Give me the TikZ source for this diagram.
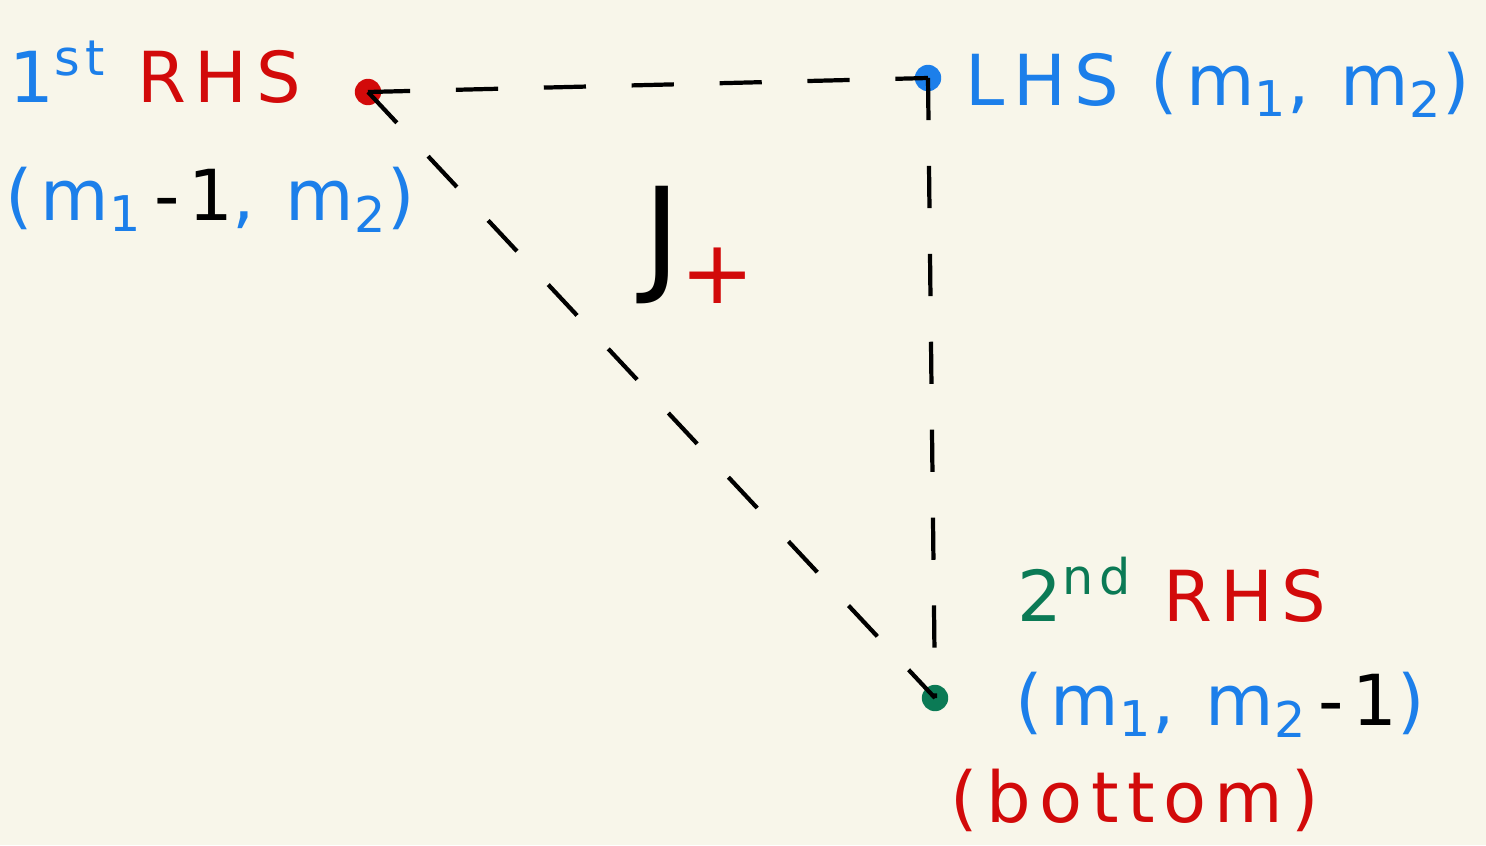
\documentclass[tikz,border=0pt]{standalone}
\usepackage{fontspec}
\setmainfont{DejaVu Sans}[LetterSpace=12]
\definecolor{bg}{HTML}{F8F6EA}
\definecolor{hblue}{HTML}{1C7FEA}
\definecolor{hred}{HTML}{D20A0A}
\definecolor{hgreen}{HTML}{0B7A55}
\begin{document}
\begin{tikzpicture}[x=0.01cm,y=-0.01cm,
  lbl/.style={inner sep=0pt,anchor=center,font=\fontsize{20}{24}\selectfont},
  dashline/.style={draw=black,line width=1.2pt,dash pattern=on 12pt off 13pt},
  dot/.style={circle,inner sep=0pt,minimum size=7.5pt}]
\fill[bg] (0,0) rectangle (1486,845);
\useasboundingbox (0,0) rectangle (1486,845);
\node[dot,fill=hred] (r1) at (368,92) {};
\node[dot,fill=hblue] (l) at (928,78) {};
\node[dot,fill=hgreen] (r2) at (935,698) {};
\draw[dashline] (r1.center) -- (l.center);
\draw[dashline] (l.center) -- (r2.center);
\draw[dashline] (r1.center) -- (r2.center);
\node[lbl] (t1) at (155,72) {\textcolor{hblue}{1\textsuperscript{st}}\ \textcolor{hred}{RHS}};
\node[lbl] (t2) at (210,200) {\textcolor{hblue}{(m\textsubscript{1}}\textcolor{black}{\,-1}\textcolor{hblue}{, m\textsubscript{2})}};
\node[lbl] (t3) at (1218,85) {\textcolor{hblue}{LHS (m\textsubscript{1}, m\textsubscript{2})}};
\node[lbl,font=\fontsize{36}{40}\selectfont] (j) at (700,245) {J\textcolor{hred}{\textsubscript{+}}};
\node[lbl] (t4) at (1172,590) {\textcolor{hgreen}{2\textsuperscript{nd}}\ \textcolor{hred}{RHS}};
\node[lbl] (t5) at (1220,705) {\textcolor{hblue}{(m\textsubscript{1}, m\textsubscript{2}}\textcolor{black}{\,-1}\textcolor{hblue}{)}};
\node[lbl] (t6) at (1135,800) {\textcolor{hred}{(bottom)}};
\end{tikzpicture}
\end{document}
